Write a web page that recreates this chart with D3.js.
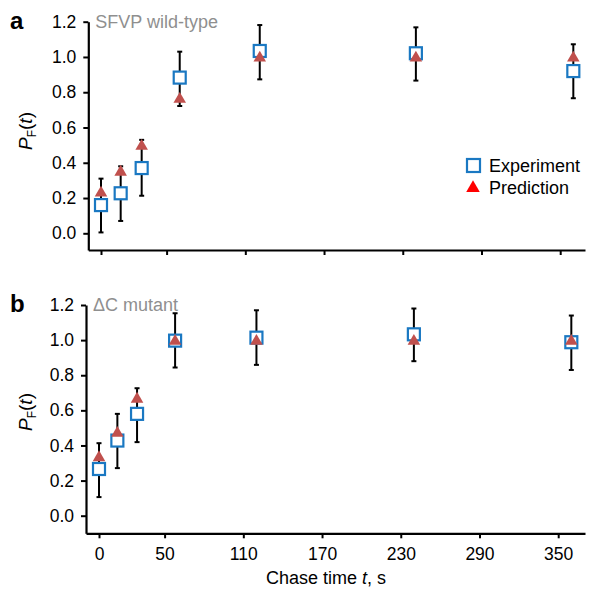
<!DOCTYPE html>
<html><head><meta charset="utf-8">
<script src="https://cdn.jsdelivr.net/npm/d3@7"></script>
<style>body{margin:0;background:#fff}svg{display:block}text{font-family:"Liberation Sans",Arial,sans-serif}</style>
</head><body><svg id="c" width="592" height="589"></svg>
<script>
const xTicks = [0, 50, 110, 170, 230, 290, 350];
const yTicks = [0, 0.2, 0.4, 0.6, 0.8, 1.0, 1.2];
const timesA = [0, 15, 31, 60, 121, 240, 360];
const expA   = [0.16, 0.227, 0.37, 0.883, 1.034, 1.021, 0.92];
const errLoA = [0.005, 0.07, 0.213, 0.722, 0.873, 0.866, 0.766];
const errHiA = [0.31, 0.38, 0.53, 1.03, 1.181, 1.168, 1.072];
const predA  = [0.235, 0.353, 0.50, 0.766, 1.0, 1.0, 1.0];
const timesB = [0, 14, 29, 58, 120, 240, 360];
const expB   = [0.266, 0.428, 0.58, 0.997, 1.014, 1.033, 0.988];
const errLoB = [0.106, 0.271, 0.419, 0.844, 0.859, 0.88, 0.83];
const errHiB = [0.413, 0.58, 0.726, 1.153, 1.17, 1.18, 1.14];
const predB  = [0.337, 0.476, 0.67, 1.0, 1.0, 1.0, 1.0];

const svg = d3.select("#c");
const FS = 17.5;
const blue = "#1a78c2", red = "#c0504d";

function panel(o) {
  const g = svg.append("g");
  const pxs = (558.2 - 99) / 350;
  const x = d3.scaleLinear()
    .domain([(o.left - o.x0) / pxs, (585 - o.x0) / pxs]).range([o.left, 585]);
  const y0 = d3.scaleLinear().domain([0, 1.2]).range([o.y0, o.y12]);
  const y = d3.scaleLinear().domain([y0.invert(o.bottom), 1.2]).range([o.bottom, o.y12]);

  const ax = g.append("g").attr("transform", `translate(0,${o.bottom})`)
    .call(d3.axisBottom(x).tickValues(xTicks).tickSizeOuter(0).tickSizeInner(5)
      .tickPadding(6).tickFormat(o.xLabels ? d3.format("d") : () => ""));
  const ay = g.append("g").attr("transform", `translate(${o.left},0)`)
    .call(d3.axisLeft(y).tickValues(yTicks).tickSizeOuter(0).tickSizeInner(5)
      .tickPadding(7).tickFormat(d3.format(".1f")));
  [ax, ay].forEach(a => {
    a.selectAll("path.domain").attr("stroke", "#000").attr("stroke-width", 2.2);
    a.selectAll(".tick line").attr("stroke", "#000").attr("stroke-width", 2);
    a.selectAll("text").attr("font-size", FS).attr("fill", "#000")
      .style("font-family", '"Liberation Sans",Arial,sans-serif');
  });
  ax.selectAll("text").attr("dy", "0.9em");

  const data = o.t.map((t, i) => ({t, e: o.e[i], lo: o.lo[i], hi: o.hi[i], p: o.p[i]}));
  const eb = g.append("g");
  eb.selectAll("line.v").data(data).join("line")
    .attr("x1", d => x(d.t)).attr("x2", d => x(d.t))
    .attr("y1", d => y(d.lo)).attr("y2", d => y(d.hi))
    .attr("stroke", "#000").attr("stroke-width", 2);
  ["lo", "hi"].forEach(k => {
    eb.selectAll("line." + k).data(data).join("line").attr("class", k)
      .attr("x1", d => x(d.t) - 2.5).attr("x2", d => x(d.t) + 2.5)
      .attr("y1", d => y(d[k])).attr("y2", d => y(d[k]))
      .attr("stroke", "#000").attr("stroke-width", 2);
  });
  g.append("g").selectAll("rect").data(data).join("rect")
    .attr("x", d => x(d.t) - 6).attr("y", d => y(d.e) - 6)
    .attr("width", 12).attr("height", 12)
    .attr("fill", "#fff").attr("stroke", blue).attr("stroke-width", 2.2);
  const tri = d3.symbol().type(d3.symbolTriangle).size(68);
  g.append("g").selectAll("path").data(data).join("path")
    .attr("d", tri)
    .attr("transform", d => `translate(${x(d.t)},${y(d.p) + 1})`)
    .attr("fill", red);

  g.append("text").attr("x", 10).attr("y", o.y12 + 7).attr("font-size", 24)
    .attr("font-weight", "bold").text(o.letter);
  g.append("text").attr("x", o.left + 7).attr("y", o.y12 + 6).attr("font-size", 18)
    .attr("fill", "#8f8f8f").text(o.title);
  const yl = g.append("text").attr("transform", `translate(32,${o.ymid}) rotate(-90)`)
    .attr("text-anchor", "middle").attr("font-size", 19);
  yl.append("tspan").attr("font-style", "italic").text("P");
  yl.append("tspan").attr("font-size", 12).attr("dy", 4).text("F");
  yl.append("tspan").attr("dy", -4).text("(");
  yl.append("tspan").attr("font-style", "italic").text("t");
  yl.append("tspan").text(")");
}

panel({left: 88.3, x0: 101, y0: 233.3, y12: 21.7, bottom: 250, xLabels: false,
  t: timesA, e: expA, lo: errLoA, hi: errHiA, p: predA, letter: "a", title: "SFVP wild-type", ymid: 131});
panel({left: 86, x0: 99, y0: 515.7, y12: 305, bottom: 533.3, xLabels: true,
  t: timesB, e: expB, lo: errLoB, hi: errHiB, p: predB, letter: "b", title: "\u0394C mutant", ymid: 412});

const xt = svg.append("text").attr("x", 326).attr("y", 584).attr("text-anchor", "middle").attr("font-size", 18);
xt.append("tspan").text("Chase time ");
xt.append("tspan").attr("font-style", "italic").text("t");
xt.append("tspan").text(", s");

const lg = svg.append("g");
lg.append("rect").attr("x", 467).attr("y", 159).attr("width", 13).attr("height", 13)
  .attr("fill", "#fff").attr("stroke", blue).attr("stroke-width", 2.2);
lg.append("text").attr("x", 489).attr("y", 172).attr("font-size", 18).text("Experiment");
lg.append("path").attr("d", d3.symbol().type(d3.symbolTriangle).size(80))
  .attr("transform", "translate(473,188)").attr("fill", "#ff0000");
lg.append("text").attr("x", 489).attr("y", 194).attr("font-size", 18).text("Prediction");
</script></body></html>
